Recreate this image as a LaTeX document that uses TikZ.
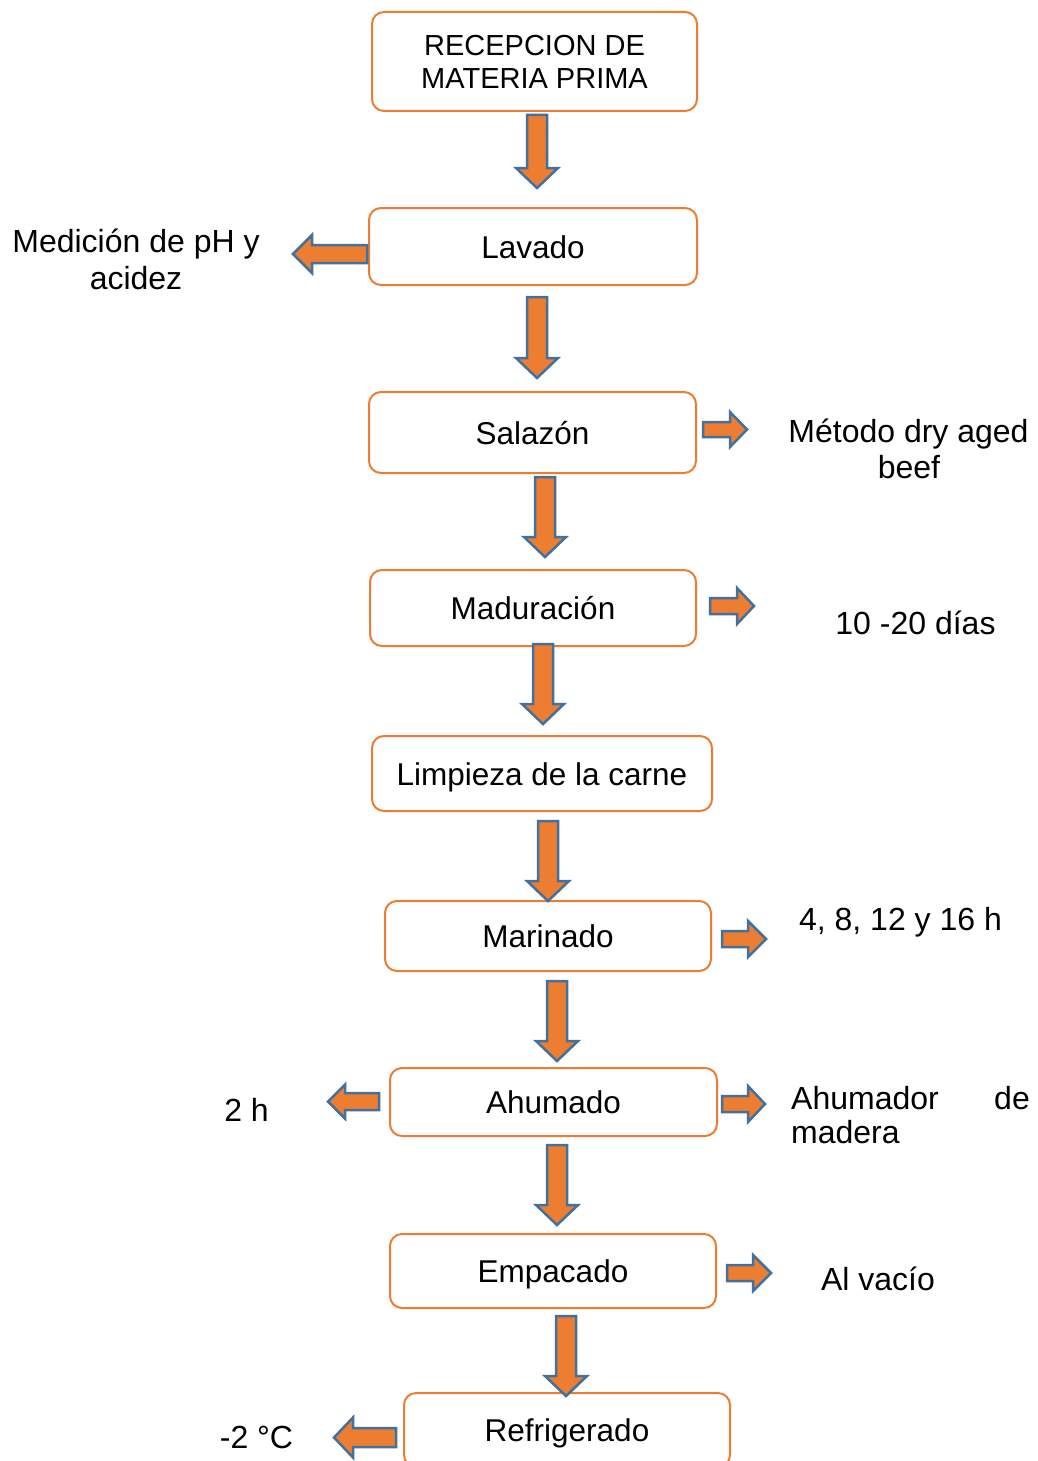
\documentclass[tikz,border=0pt]{standalone}
\usepackage{fontspec}
\setmainfont{Liberation Sans}
\definecolor{orng}{HTML}{ED7D31}
\definecolor{steel}{HTML}{41719C}
\tikzset{
  box/.style={draw=orng, line width=2pt, rounded corners=12pt, fill=white, inner sep=0pt,
    font=\fontsize{31.5}{36}\selectfont, text height=23pt, text depth=0pt},
  lbl/.style={inner sep=0pt, anchor=base, font=\fontsize{32}{37}\selectfont},
  blockarr/.style={fill=orng, draw=steel, line width=2.5pt, line join=miter}
}
\newcommand{\varr}[3]{\filldraw[blockarr] (#1-10,#2) -- (#1+10,#2) -- (#1+10,#3-20) -- (#1+21,#3-20) -- (#1,#3) -- (#1-21,#3-20) -- (#1-10,#3-20) -- cycle;}
\newcommand{\harr}[6]{\filldraw[blockarr] (#1,#4-#5) -- (#2,#4-#5) -- (#2,#4-#6) -- (#3,#4) -- (#2,#4+#6) -- (#2,#4+#5) -- (#1,#4+#5) -- cycle;}
\begin{document}
\begin{tikzpicture}[x=1pt,y=-1pt]
\useasboundingbox (0,0) rectangle (1037,1461);
\fill[white] (0,0) rectangle (1037,1461);
\clip (0,0) rectangle (1037,1461);
% boxes
\node[box, minimum width=325pt, minimum height=99pt, align=center, text height=, text depth=,
  font=\fontsize{29}{33}\selectfont] (rec) at (534.5,61.5) {RECEPCION DE\\MATERIA PRIMA};
\node[box, minimum width=328pt, minimum height=77pt] (lav) at (533,246.5) {Lavado};
\node[box, minimum width=327pt, minimum height=81pt] (sal) at (532.5,432.5) {Salazón};
\node[box, minimum width=326pt, minimum height=76pt] (mad) at (533,608) {Maduración};
\node[box, minimum width=340pt, minimum height=75pt] (lim) at (542,773.5) {Limpieza de la carne};
\node[box, minimum width=326pt, minimum height=70pt] (mar) at (548,936) {Marinado};
\node[box, minimum width=327pt, minimum height=68pt] (ahu) at (553.5,1102) {Ahumado};
\node[box, minimum width=326pt, minimum height=74pt] (emp) at (553,1271) {Empacado};
\node[box, minimum width=326pt, minimum height=74pt] (ref) at (567,1430) {Refrigerado};
% down arrows
\varr{537}{115}{188}
\varr{537}{297}{378}
\varr{545}{477}{557}
\varr{543}{644}{724}
\varr{548}{821}{901}
\varr{557}{981}{1061}
\varr{557}{1145}{1225}
\varr{566}{1316}{1396}
% side arrows
\harr{367}{312}{293}{254}{9}{19}
\harr{703}{730}{747}{429.5}{7.5}{17.5}
\harr{710}{737}{754}{606}{8}{18}
\harr{722}{748}{766}{939}{8}{18}
\harr{379}{345}{328}{1101.5}{8.5}{17}
\harr{722}{748}{765}{1104}{8}{18}
\harr{727}{753}{771}{1273}{8}{18}
\harr{396}{353}{334}{1437.5}{9.5}{20}
% labels
\node[lbl] (m1) at (136,252) {Medición de pH y};
\node[lbl] (m2) at (136,289) {acidez};
\node[lbl] (d1) at (908.5,442) {Método dry aged};
\node[lbl] (d2) at (909,478) {beef};
\node[lbl] (dias) at (915.5,634) {10 -20 días};
\node[lbl] (hrs) at (900.5,930) {4, 8, 12 y 16 h};
\node[lbl, anchor=base west] (ah1) at (791,1109) {Ahumador};
\node[lbl, anchor=base east] (ah2) at (1030,1109) {de};
\node[lbl, anchor=base west] (ah3) at (791,1143) {madera};
\node[lbl] (dos) at (246.5,1121) {2 h};
\node[lbl] (vac) at (878,1290) {Al vacío};
\node[lbl] (tmp) at (256.5,1448) {-2 °C};
\end{tikzpicture}
\end{document}
